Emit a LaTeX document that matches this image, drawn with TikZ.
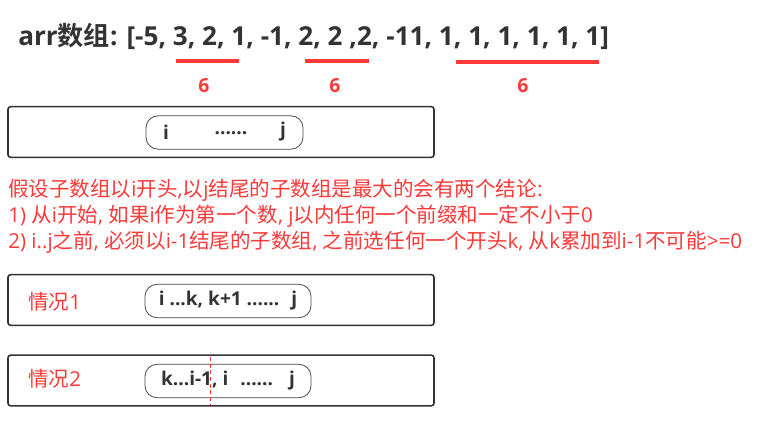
\documentclass[tikz,border=0pt]{standalone}
\usepackage{fontspec}
\setmainfont{Open Sans}
\newfontfamily\cjk{Noto Sans CJK SC}[BoldFont={Noto Sans CJK SC Bold}]
\usetikzlibrary{positioning}
\definecolor{txtgray}{HTML}{333333}
\definecolor{hired}{HTML}{FF3838}

\begin{document}
\begin{tikzpicture}[x=0.75pt,y=-0.75pt,
	outerbox/.style={draw=txtgray, line width=1.2pt, rounded corners=2pt,
		minimum width=319.5pt, minimum height=38pt, inner sep=0pt},
	pill/.style={draw=txtgray!90, line width=0.6pt, rounded corners=9pt,
		minimum height=25pt, inner sep=0pt, text=txtgray, font=\bfseries\fontsize{14.3}{16}\selectfont},
	mark6/.style={text=hired, font=\bfseries\fontsize{14.5}{16}\selectfont},
	redline/.style={draw=hired, line width=2.5pt},
	note/.style={text=hired, anchor=west, inner sep=0pt, font=\fontsize{15.4}{17}\selectfont}]
	\useasboundingbox (0,0) rectangle (770,428);
	%% title and the three sums
	\node [anchor=west, inner sep=0pt, text=txtgray, font=\bfseries\fontsize{19.6}{22}\selectfont] (title) at (18,36)
		{arr{\cjk 数组}: [-5, 3, 2, 1, -1, 2, 2 ,2, -11, 1, 1, 1, 1, 1, 1]};
	\draw [redline] (176,61) -- (239,61);
	\draw [redline] (305,61) -- (369,61);
	\draw [redline] (456,62) -- (599,62);
	\node [mark6] (six1) at (204,86) {6};
	\node [mark6] (six2) at (335,86) {6};
	\node [mark6] (six3) at (523,86) {6};
	%% i ... j
	\node [outerbox] (box1) at (221,132) {};
	\node [pill, minimum width=117.75pt] (pill1) at (224.5,132.5) {};
	\node [pill, draw=none] (ii) at (166,132) {i};
	\node [pill, draw=none] (dots) at (231,133) {......};
	\node [pill, draw=none] (jj) at (283,132) {j};
	%% conclusions
	\node [note] (note1) at (8,190) {{\cjk 假设子数组以}i{\cjk 开头},{\cjk 以}j{\cjk 结尾的子数组是最大的会有两个结论}:};
	\node [note] (note2) at (8,216) {1) {\cjk 从}i{\cjk 开始}, {\cjk 如果}i{\cjk 作为第一个数}, j{\cjk 以内任何一个前缀和一定不小于}0};
	\node [note] (note3) at (8,242) {2) i..j{\cjk 之前}, {\cjk 必须以}i-1{\cjk 结尾的子数组}, {\cjk 之前选任何一个开头}k, {\cjk 从}k{\cjk 累加到}i-1{\cjk 不可能}>=0};
	%% case 1
	\node [outerbox] (box2) at (221,300) {};
	\node [note] (case1) at (28,302) {{\cjk 情况}1};
	\node [pill, minimum width=124.5pt] (pill2) at (228,301) {i ...k, k+1 ......\hspace{9pt}j};
	%% case 2
	\node [outerbox] (box3) at (221,380.5) {};
	\node [note] (case2) at (28,379) {{\cjk 情况}2};
	\node [pill, minimum width=124.5pt] (pill3) at (228,381) {k...i-1, i\hspace{9pt}......\hspace{12pt}j};
	\coordinate (cuttop) at (210,357);
	\coordinate (cutbot) at (210,404);
	\draw [hired, densely dashed, line width=0.6pt] (cuttop) -- (cutbot);
\end{tikzpicture}
\end{document}
